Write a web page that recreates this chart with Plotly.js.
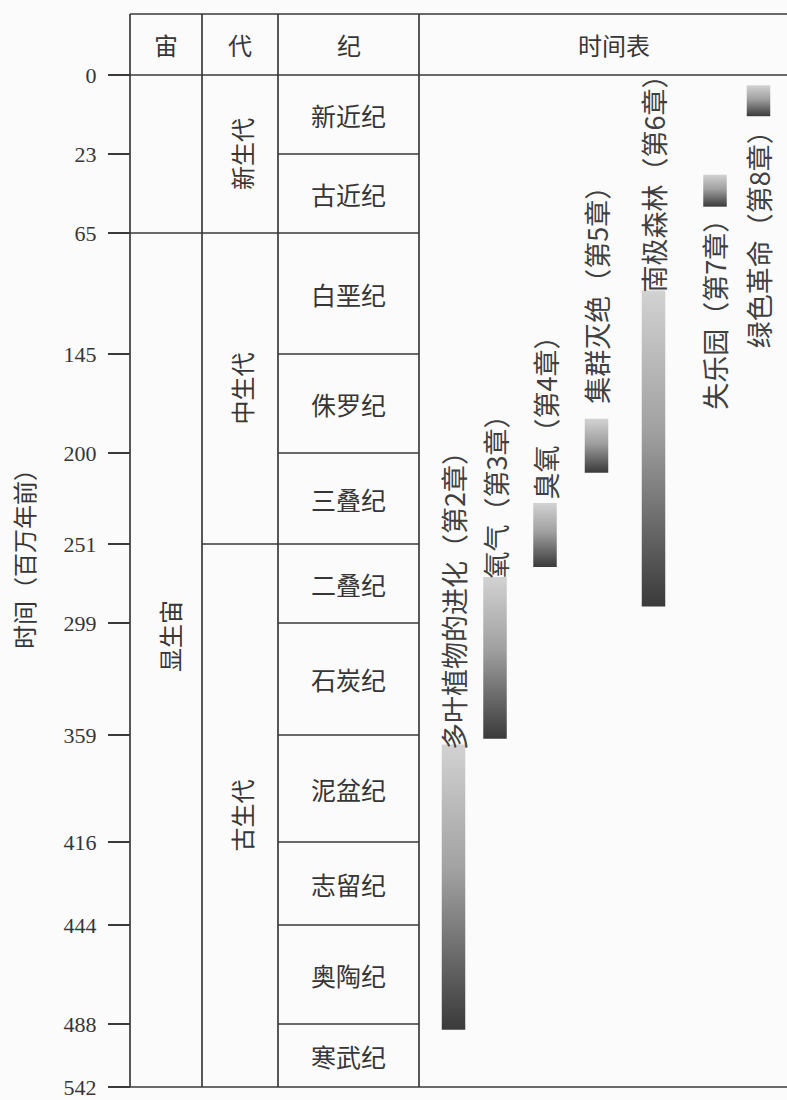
<!DOCTYPE html>
<html>
<head>
<meta charset="utf-8">
<script src="https://cdn.plot.ly/plotly-3.0.1.min.js"></script>
<style>
html,body{margin:0;padding:0;background:#fbfbfb;}
#chart{width:787px;height:1100px;}
</style>
</head>
<body>
<div id="chart"></div>
<script>
// ================= DATA =================
const tickAges = [0, 23, 65, 145, 200, 251, 299, 359, 416, 444, 488, 542];
const tickText = ['0', '23', '65', '145', '200', '251', '299', '359', '416', '444', '488', '542'];

const columnHeaders = ['宙', '代', '纪', '时间表'];

const eonNames = ['显生宙'];
const eonStart = [0];
const eonEnd = [542];

const eraNames = ['新生代', '中生代', '古生代'];
const eraStart = [0, 65, 251];
const eraEnd = [65, 251, 542];

const periodNames = ['新近纪', '古近纪', '白垩纪', '侏罗纪', '三叠纪', '二叠纪', '石炭纪', '泥盆纪', '志留纪', '奥陶纪', '寒武纪'];
const periodStart = [0, 23, 65, 145, 200, 251, 299, 359, 416, 444, 488];
const periodEnd = [23, 65, 145, 200, 251, 299, 359, 416, 444, 488, 542];

const eventLabels = ['多叶植物的进化（第2章）', '氧气（第3章）', '臭氧（第4章）', '集群灭绝（第5章）', '南极森林（第6章）', '失乐园（第7章）', '绿色革命（第8章）'];
const eventStart = [364, 271, 228, 181, 103, 34, 3];
const eventEnd = [493, 361, 265, 211, 289, 51, 12];

const yTitle = '时间（百万年前）';

// ================= LAYOUT / STYLE =================
// row scale of the drawing: vertical position (px from top) at which each tick age sits
const tickRowPos = [75, 154, 233, 354, 453, 544, 623, 735, 842, 925, 1024, 1087];
const TABLE_TOP = 14;
const COL = {eon: 130, era: 202, period: 278, timeline: 419, right: 808};
const ruleFromEonCol = [65];           // boundary rule drawn across the eon column
const barX = [453.5, 495, 545, 596.5, 653.5, 715, 758.5];
const barW = 23.5;
const labelSide = ['above', 'above', 'above', 'above', 'above', 'below', 'below'];
const labelGap = [-7, -3, 2, 14, -3, -2, 0];
const eonLabelShift = [-55];
const eonLabelX = [169];
const eraLabelX = 241;

const LINE = '#3a3a3a';
const TEXT = '#363636';
const CJK = '"Noto Sans CJK SC", "Noto Sans CJK TC", sans-serif';
const SERIF = '"Liberation Serif", "DejaVu Serif", serif';

function ageToU(a) {
  for (let i = 0; i < tickAges.length - 1; i++) {
    if (a <= tickAges[i + 1]) {
      const t = (a - tickAges[i]) / (tickAges[i + 1] - tickAges[i]);
      return tickRowPos[i] + t * (tickRowPos[i + 1] - tickRowPos[i]);
    }
  }
  return tickRowPos[tickRowPos.length - 1];
}

// ================= TRACES (gradient bars) =================
const traces = eventLabels.map((name, i) => {
  const x0 = barX[i] - barW / 2, x1 = barX[i] + barW / 2;
  const u0 = ageToU(eventStart[i]), u1 = ageToU(eventEnd[i]);
  return {
    type: 'scatter', mode: 'lines', name: name,
    x: [x0, x1, x1, x0, x0],
    y: [u0, u0, u1, u1, u0],
    fill: 'toself',
    fillgradient: {
      type: 'vertical',
      colorscale: [[0, '#3a3a3a'], [0.55, '#a0a0a0'], [1, '#d2d2d2']]
    },
    line: {width: 0, color: 'rgba(0,0,0,0)'},
    hoverinfo: 'skip', showlegend: false
  };
});

// ================= SHAPES (table rules) =================
const shapes = [];
function hline(y, xa, xb) {
  shapes.push({type: 'line', xref: 'x', yref: 'y', x0: xa, x1: xb, y0: y, y1: y,
    line: {color: LINE, width: 1.7}});
}
function vline(x, ya, yb) {
  shapes.push({type: 'line', xref: 'x', yref: 'y', x0: x, x1: x, y0: ya, y1: yb,
    line: {color: LINE, width: 1.7}});
}
const uTop = TABLE_TOP, uZero = ageToU(0), uBottom = ageToU(542);
hline(uTop, COL.eon, COL.right);
hline(uZero, COL.eon, COL.right);
hline(uBottom, COL.eon, COL.right);
[COL.eon, COL.era, COL.period, COL.timeline].forEach(x => vline(x, uTop, uBottom));
// internal boundaries
periodStart.slice(1).forEach(b => {
  let xa = COL.period;
  if (eraStart.slice(1).indexOf(b) >= 0) xa = COL.era;
  if (ruleFromEonCol.indexOf(b) >= 0) xa = COL.eon;
  hline(ageToU(b), xa, COL.timeline);
});

// ================= ANNOTATIONS =================
const annotations = [];
const headerCenters = [(COL.eon + COL.era) / 2, (COL.era + COL.period) / 2, (COL.period + COL.timeline) / 2, (COL.timeline + COL.right) / 2];
columnHeaders.forEach((h, i) => {
  annotations.push({x: headerCenters[i], y: (uTop + uZero) / 2, xref: 'x', yref: 'y', text: h,
    showarrow: false, xanchor: 'center', yanchor: 'middle',
    font: {family: CJK, size: 24, color: TEXT}});
});
periodNames.forEach((p, i) => {
  annotations.push({x: (COL.period + COL.timeline) / 2, y: (ageToU(periodStart[i]) + ageToU(periodEnd[i])) / 2,
    xref: 'x', yref: 'y', text: p, showarrow: false, xanchor: 'center', yanchor: 'middle',
    font: {family: CJK, size: 25, color: TEXT}});
});
eraNames.forEach((e, i) => {
  annotations.push({x: eraLabelX, y: (ageToU(eraStart[i]) + ageToU(eraEnd[i])) / 2,
    xref: 'x', yref: 'y', text: e, textangle: -90, showarrow: false, xanchor: 'center', yanchor: 'middle',
    font: {family: CJK, size: 24, color: TEXT}});
});
eonNames.forEach((e, i) => {
  annotations.push({x: eonLabelX[i], y: (ageToU(eonStart[i]) + ageToU(eonEnd[i])) / 2, yshift: eonLabelShift[i],
    xref: 'x', yref: 'y', text: e, textangle: -90, showarrow: false, xanchor: 'center', yanchor: 'middle',
    font: {family: CJK, size: 24, color: TEXT}});
});
eventLabels.forEach((t, i) => {
  const above = labelSide[i] === 'above';
  annotations.push({x: barX[i], y: above ? ageToU(eventStart[i]) : ageToU(eventEnd[i]),
    yshift: above ? labelGap[i] : -labelGap[i],
    xref: 'x', yref: 'y', text: t, textangle: -90, showarrow: false,
    xanchor: 'center', yanchor: above ? 'bottom' : 'top', borderpad: 0,
    font: {family: CJK, size: 27, color: '#404040'}});
});

// ================= LAYOUT =================
const layout = {
  width: 787, height: 1100,
  margin: {l: 126, r: 0, t: 8, b: 2},
  paper_bgcolor: '#fbfbfb', plot_bgcolor: '#fbfbfb',
  showlegend: false,
  xaxis: {range: [126, 787], visible: false, fixedrange: true},
  yaxis: {
    range: [1098, 8], anchor: 'free', position: 4 / 661,
    tickmode: 'array', tickvals: tickAges.map(ageToU), ticktext: tickText,
    ticks: 'outside', ticklen: 22, tickwidth: 1.7, tickcolor: LINE,
    ticklabelstandoff: 7, ticklabeloverflow: 'allow',
    tickfont: {family: SERIF, size: 22, color: TEXT},
    showline: false, showgrid: false, zeroline: false, fixedrange: true,
    title: {text: yTitle, standoff: 21, font: {family: CJK, size: 24, color: TEXT}}
  },
  shapes: shapes,
  annotations: annotations
};

Plotly.newPlot('chart', traces, layout, {staticPlot: true, displayModeBar: false});
</script>
</body>
</html>
